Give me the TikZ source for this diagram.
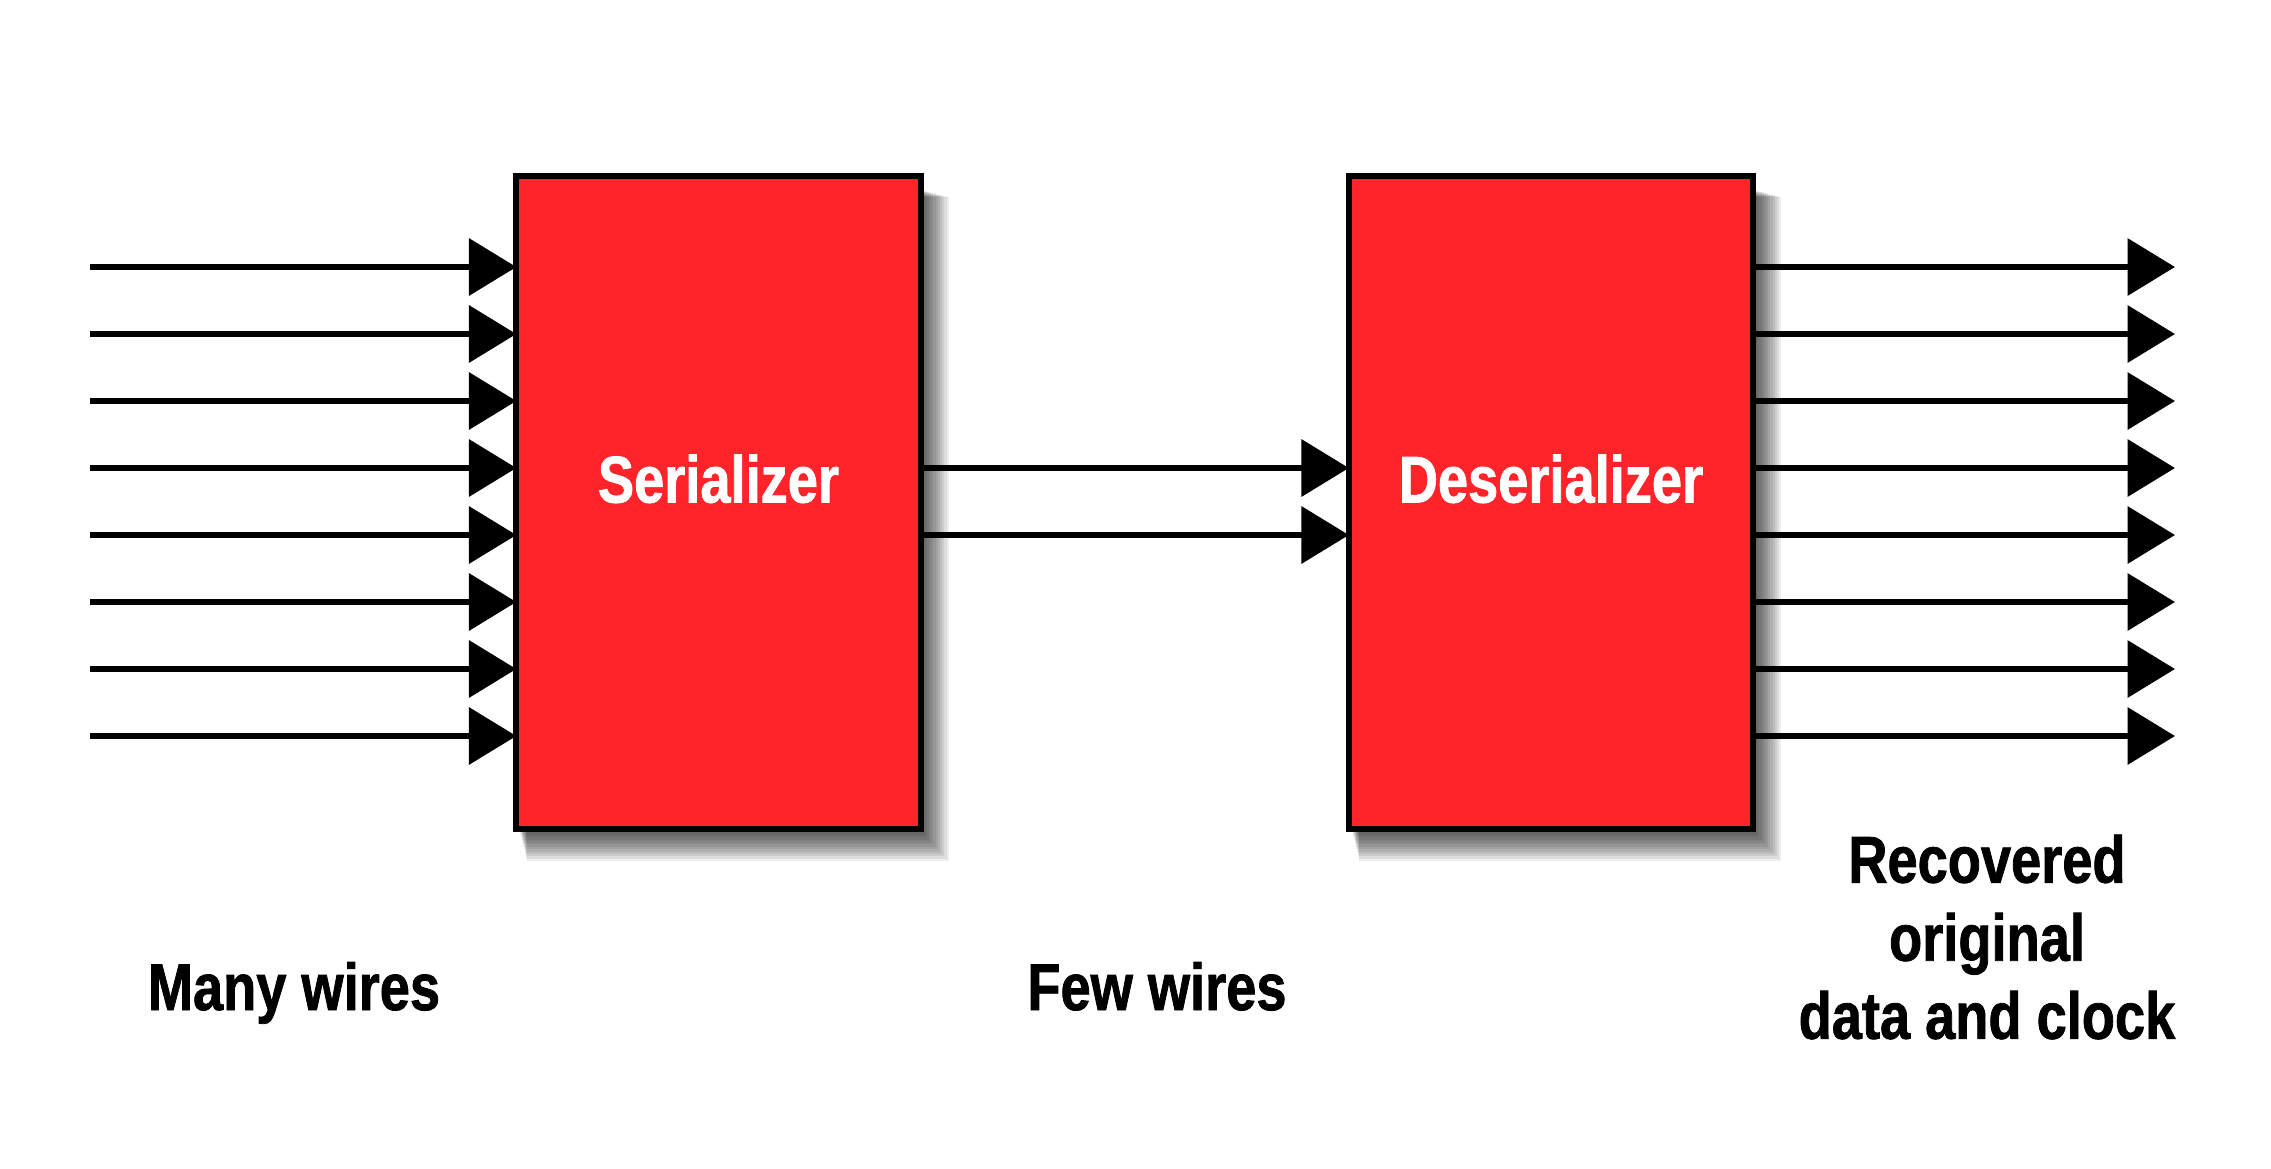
\documentclass[tikz,border=0pt]{standalone}
\usepackage{fontspec}
\newfontfamily\lbl{Liberation Sans}[FakeStretch=0.82, FakeBold=1.2]
\usetikzlibrary{arrows.meta,calc}
\pgfdeclarelayer{bg}
\pgfsetlayers{bg,main}
\definecolor{boxred}{RGB}{255,35,42}
\tikzset{
  blockbox/.style={draw=black, line width=1.7pt, fill=boxred, minimum width=4.04cm, minimum height=6.52cm, inner sep=0pt, outer sep=0pt},
  blocktext/.style={text=white, font={\lbl\bfseries\fontsize{18.8}{22.2}\selectfont}, inner sep=0pt, anchor=base},
  lbltext/.style={text=black, font={\lbl\bfseries\fontsize{18.8}{22.2}\selectfont}, inner sep=0pt, align=center},
  wire/.style={line width=1.75pt, -{Triangle[length=13.5pt, width=16pt]}}
}
\begin{document}
\begin{tikzpicture}[x=0.01cm, y=-0.01cm]
\useasboundingbox (0,0) rectangle (2271,1169);

\node[blockbox] (ser) at (718.5,502.5) {};
\node[blockbox] (des) at (1551,502.5) {};
\node[blocktext] (sertext) at (ser.center) {Serializer};
\node[blocktext] (destext) at (des.center) {Deserializer};

\begin{pgfonlayer}{bg}
\fill[white] (0,0) rectangle (2271,1169);
\foreach \n in {ser,des}{
  \foreach \k in {0,...,11}{
    \fill[black, opacity=0.07] ($(\n.north west)+(4+\k*0.6,14+\k*0.6)$) rectangle ($(\n.south east)+(4+\k*2.2,6+\k*2.4)$);
  }
}
\end{pgfonlayer}

\foreach \i in {0,...,7}{
  \coordinate (in\i) at (90,267+67*\i);
  \coordinate (out\i) at (2175,267+67*\i);
  \draw[wire] (in\i) -- (in\i -| ser.west);
  \draw[wire] (out\i -| des.east) -- (out\i);
}
\foreach \i in {3,4}{
  \coordinate (mid\i) at (1000,267+67*\i);
  \draw[wire] (mid\i -| ser.east) -- (mid\i -| des.west);
}

\node[lbltext, anchor=base] (many) at (294,1010) {Many wires};
\node[lbltext, anchor=base] (few) at (1157,1010) {Few wires};
\node[lbltext, anchor=north] (rec) at (1987,834) {Recovered\\original\\data and clock};
\end{tikzpicture}
\end{document}
